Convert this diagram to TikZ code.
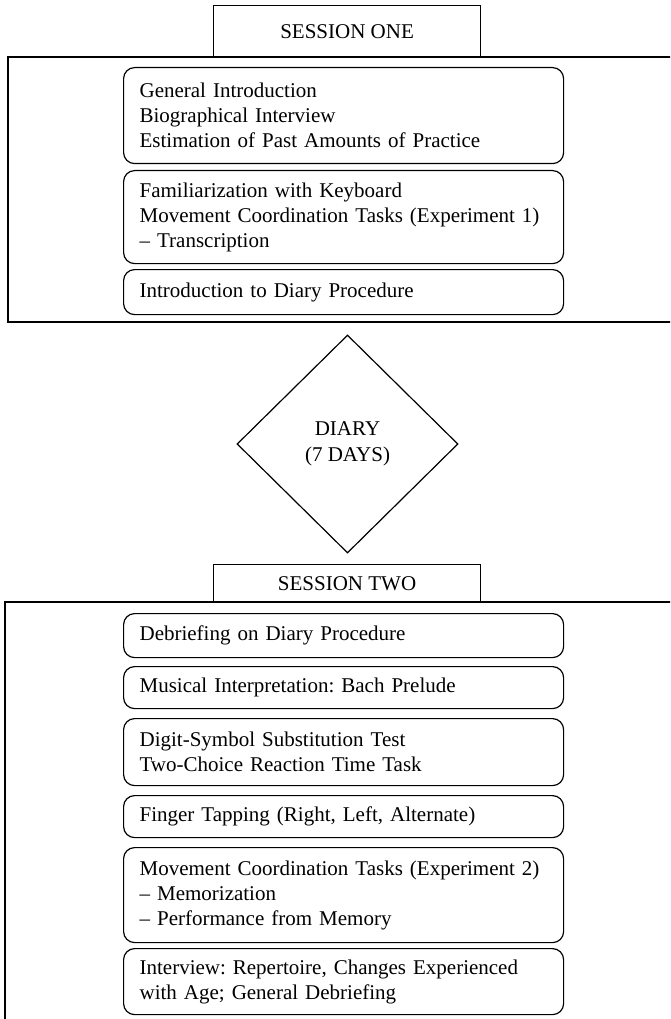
\documentclass[tikz,border=0pt]{standalone}
\usepackage{fontspec}
\setmainfont{Liberation Serif}
\usetikzlibrary{shapes.geometric}
\frenchspacing
\tikzset{
  frame/.style={line width=1.3pt, line join=miter},
  hdr/.style={draw, line width=1.2pt, rectangle, anchor=north west, minimum width=267pt, inner sep=0pt,
    font=\fontsize{21}{25}\selectfont},
  ibox/.style={draw, line width=1.2pt, rounded corners=11pt, anchor=north west, text width=408pt,
    inner xsep=16pt, inner ysep=0pt, align=left, font=\fontsize{21}{25}\selectfont\frenchspacing},
  diam/.style={draw, line width=1.2pt, diamond, inner sep=0pt, minimum width=221pt, minimum height=218pt,
    align=center, font=\fontsize{21}{26}\selectfont}
}
\begin{document}
\begin{tikzpicture}[x=1pt,y=-1pt]
\useasboundingbox (0,0) rectangle (670,1019);
\clip (0,0) rectangle (670,1019);
% session one
\node[hdr, minimum height=52pt] (s1) at (213,5) {SESSION ONE};
\draw[frame] (675,57) -- (8,57) -- (8,322) -- (675,322);
\node[ibox, minimum height=96pt] (a1) at (123,67) {General Introduction\\Biographical Interview\\Estimation of Past Amounts of Practice};
\node[ibox, minimum height=93pt] (a2) at (123,170) {Familiarization with Keyboard\\Movement Coordination Tasks (Experiment 1)\\– Transcription};
\node[ibox, minimum height=45pt] (a3) at (123,269) {Introduction to Diary Procedure};
% diary
\node[diam] (d) at (347.5,444) {DIARY\\(7 DAYS)};
% session two
\node[hdr, minimum height=38pt] (s2) at (213,564) {SESSION TWO};
\draw[frame] (675,602) -- (5,602) -- (5,1025);
\node[ibox, minimum height=44pt] (b1) at (123,613) {Debriefing on Diary Procedure};
\node[ibox, minimum height=42pt] (b2) at (123,666) {Musical Interpretation: Bach Prelude};
\node[ibox, minimum height=67pt] (b3) at (123,718) {Digit-Symbol Substitution Test\\Two-Choice Reaction Time Task};
\node[ibox, minimum height=42pt] (b4) at (123,795) {Finger Tapping (Right, Left, Alternate)};
\node[ibox, minimum height=95pt] (b5) at (123,847) {Movement Coordination Tasks (Experiment 2)\\– Memorization\\– Performance from Memory};
\node[ibox, minimum height=66pt] (b6) at (123,948) {Interview: Repertoire, Changes Experienced\\with Age; General Debriefing};
\end{tikzpicture}
\end{document}
